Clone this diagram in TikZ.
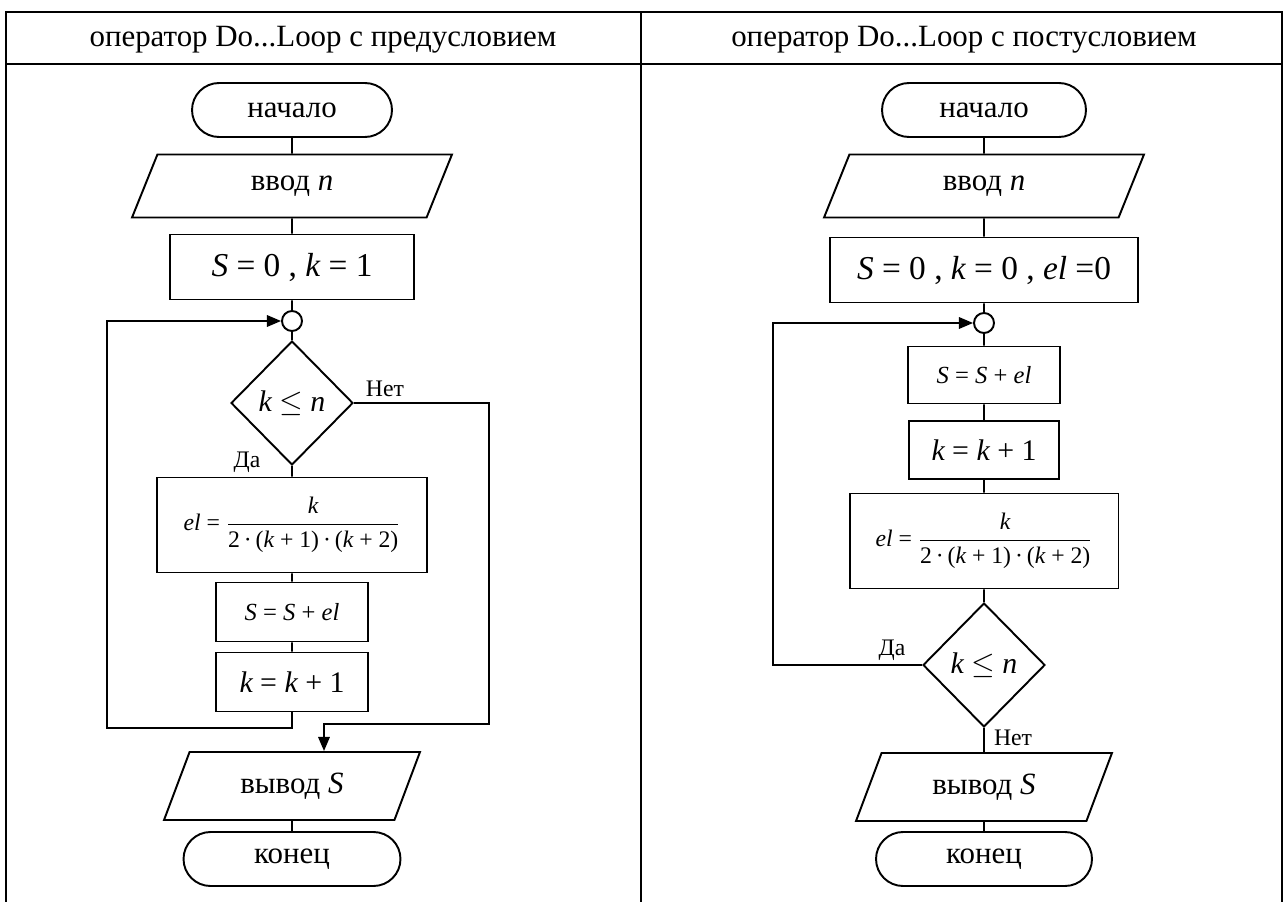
\documentclass[tikz,border=0pt]{standalone}
\usepackage{amsmath}
\usepackage{fontspec}
\setmainfont{Liberation Serif}
\usepackage{tikz}
\usetikzlibrary{arrows.meta,shapes.geometric,shapes.misc,calc}

\newcommand{\iv}[1]{{\itshape #1}}
\newcommand{\elfrac}{\iv{el} = $\dfrac{\text{\iv{k}}}{\text{2\,·\,(\iv{k} + 1)\,·\,(\iv{k} + 2)}}$}

\begin{document}
\begin{tikzpicture}[x=0.02cm,y=-0.02cm,line width=1.1pt,
  >={Triangle[length=8pt,width=6.5pt]},
  txt/.style={font=\fontsize{17.6}{20}\selectfont},
  term/.style={draw,rounded rectangle,txt,inner sep=0pt,minimum height=1.08cm},
  inbox/.style={draw,trapezium,trapezium left angle=39,trapezium right angle=141,
    trapezium stretches body,txt,inner sep=0pt,minimum width=6.4cm,minimum height=1.26cm},
  outbox/.style={draw,trapezium,trapezium left angle=46,trapezium right angle=134,
    trapezium stretches body,txt,inner sep=0pt,minimum width=5.12cm,minimum height=1.36cm},
  proc/.style={draw,rectangle,inner sep=0pt},
  cond/.style={draw,diamond,aspect=1,inner sep=0pt,minimum width=2.44cm,minimum height=2.48cm,
    font=\fontsize{17}{18}\selectfont},
  joint/.style={draw,circle,inner sep=0pt,minimum size=0.4cm},
  lbl/.style={font=\fontsize{13.5}{15}\selectfont,inner sep=0pt}]
\useasboundingbox (0,0) rectangle (1284,902);
% table
\draw (6,902) -- (6,12) -- (1282,12) -- (1282,902);
\draw (641,12) -- (641,902);
\draw (6,64) -- (1282,64);
\node[txt] (h1) at (323,40) {оператор Do...Loop с предусловием};
\node[txt] (h2) at (964,40) {оператор Do...Loop с постусловием};

% left: pre-condition
\node[term,minimum width=4cm] (start1) at (292,110) {начало};
\node[inbox] (in1) at (292,186) {ввод \iv{n}};
\node[proc,minimum width=4.88cm,minimum height=1.3cm,font=\fontsize{19}{20}\selectfont] (init1) at (292,267)
  {\iv{S} = 0 , \iv{k} = 1};
\node[joint] (c1) at (292,321) {};
\node[cond] (d1) at (292,403) {\iv{k} $\le$ \iv{n}};
\node[proc,minimum width=5.4cm,minimum height=1.9cm,font=\fontsize{13.5}{15}\selectfont] (el1) at (292,525)
  {\elfrac};
\node[proc,minimum width=3.04cm,minimum height=1.18cm,font=\fontsize{14}{16}\selectfont] (sum1) at (292,612)
  {\iv{S} = \iv{S} + \iv{el}};
\node[proc,minimum width=3.04cm,minimum height=1.18cm,font=\fontsize{17}{18}\selectfont] (inc1) at (292,682)
  {\iv{k} = \iv{k} + 1};
\node[outbox] (out1) at (292,786) {вывод \iv{S}};
\node[term,minimum width=4.34cm] (end1) at (292,859) {конец};
\node[lbl] (no1) at (385,389) {Нет};
\node[lbl] (yes1) at (247,462) {Да};
\coordinate (lb1) at (107,728);
\coordinate (nr1) at (489,724);
\coordinate (na1) at (324,724);

\draw (start1) -- (in1) -- (init1) -- (c1) -- (d1) -- (el1) -- (sum1) -- (inc1);
\draw (out1) -- (end1);
\draw[->] (inc1) |- (lb1) |- (c1);
\draw[->] (d1.east) -| (nr1) -- (na1) -- (na1 |- out1.north);

% right: post-condition
\node[term,minimum width=4.08cm] (start2) at (984,110) {начало};
\node[inbox] (in2) at (984,186) {ввод \iv{n}};
\node[proc,minimum width=6.16cm,minimum height=1.3cm,font=\fontsize{19}{20}\selectfont] (init2) at (984,270)
  {\iv{S} = 0 , \iv{k} = 0 , \iv{el} =0};
\node[joint] (c2) at (984,323) {};
\node[proc,minimum width=3.04cm,minimum height=1.14cm,font=\fontsize{14}{16}\selectfont] (sum2) at (984,375)
  {\iv{S} = \iv{S} + \iv{el}};
\node[proc,minimum width=3cm,minimum height=1.16cm,font=\fontsize{17}{18}\selectfont] (inc2) at (984,450)
  {\iv{k} = \iv{k} + 1};
\node[proc,minimum width=5.38cm,minimum height=1.9cm,font=\fontsize{13.5}{15}\selectfont] (el2) at (984,541)
  {\elfrac};
\node[cond] (d2) at (984,665) {\iv{k} $\le$ \iv{n}};
\node[outbox] (out2) at (984,787) {вывод \iv{S}};
\node[term,minimum width=4.32cm] (end2) at (984,859) {конец};
\node[lbl] (yes2) at (892,650) {Да};
\node[lbl] (no2) at (1013,738) {Нет};
\coordinate (lb2) at (773,665);

\draw (start2) -- (in2) -- (init2) -- (c2) -- (sum2) -- (inc2) -- (el2) -- (d2) -- (out2) -- (end2);
\draw[->] (d2.west) -- (lb2) |- (c2);
\end{tikzpicture}
\end{document}
